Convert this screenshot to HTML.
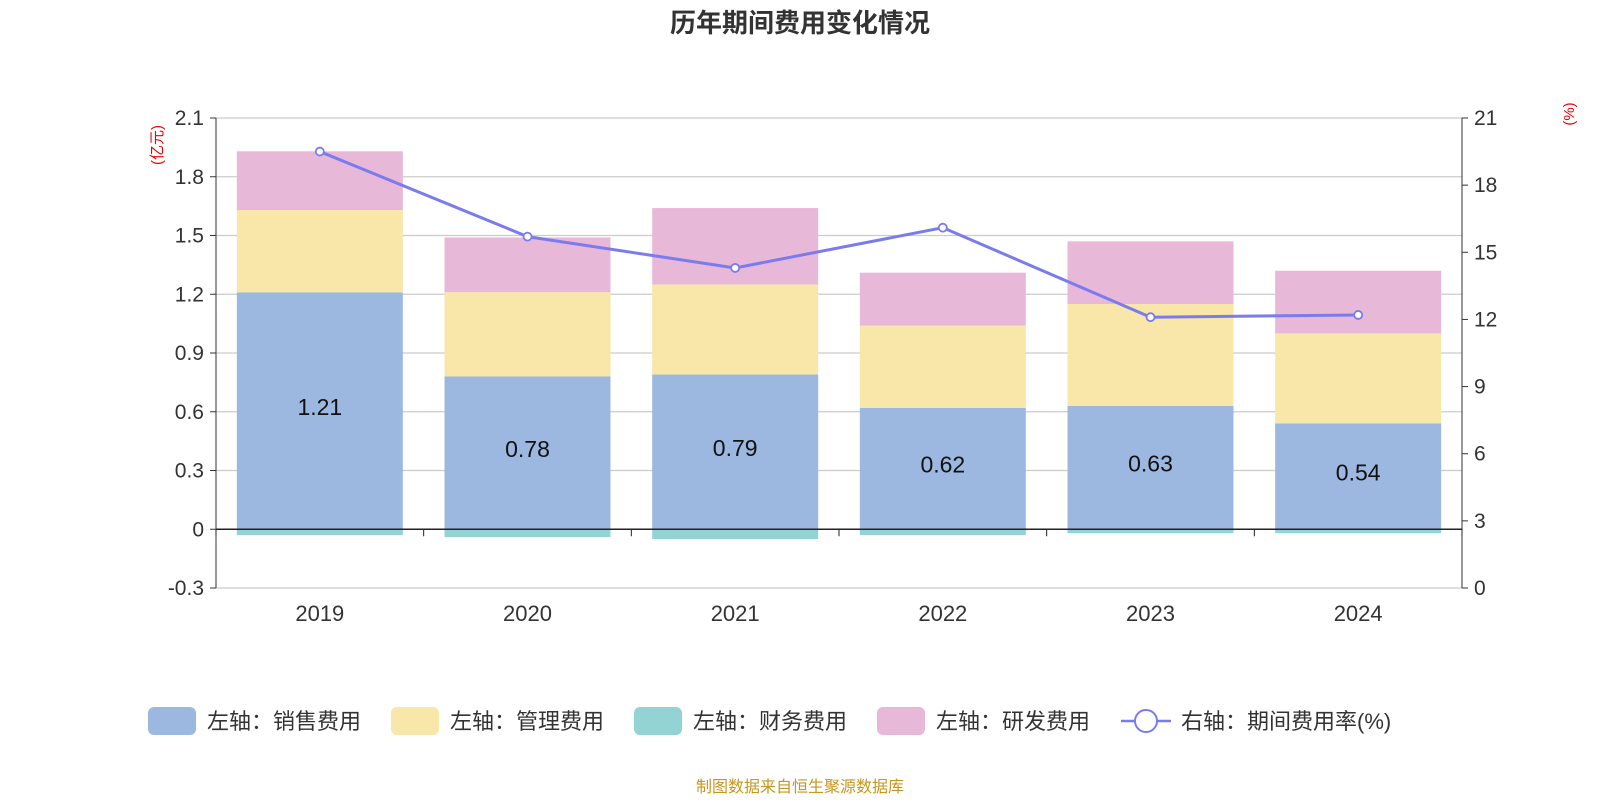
<!DOCTYPE html>
<html><head><meta charset="utf-8">
<style>
body{margin:0;background:#fff;font-family:"Liberation Sans","Noto Sans CJK SC",sans-serif;}
svg text{font-family:"Liberation Sans","Noto Sans CJK SC",sans-serif;}
</style></head>
<body>
<svg id="c" width="1600" height="800" xmlns="http://www.w3.org/2000/svg">
<text x="800" y="32" text-anchor="middle" font-size="26" font-weight="bold" fill="#333">历年期间费用变化情况</text>
<text transform="translate(162,145) rotate(-90)" text-anchor="middle" font-size="15" fill="#e00">(亿元)</text>
<text transform="translate(1574,114) rotate(-90)" text-anchor="middle" font-size="15" fill="#e00">(%)</text>
<g id="grid"></g><g id="bars"></g><g id="axes"></g><g id="line"></g>
<text x="800" y="792" text-anchor="middle" font-size="16" fill="#c8961e">制图数据来自恒生聚源数据库</text>
</svg>
<script>
const years=["2019","2020","2021","2022","2023","2024"];
const sales=[1.21,0.78,0.79,0.62,0.63,0.54];
const mgmt=[0.42,0.43,0.46,0.42,0.52,0.46];
const fin=[-0.03,-0.04,-0.05,-0.03,-0.02,-0.02];
const rd=[0.30,0.28,0.39,0.27,0.32,0.32];
const rate=[19.5,15.7,14.3,16.1,12.1,12.2];
const leftTicks=[-0.3,0,0.3,0.6,0.9,1.2,1.5,1.8,2.1];
const rightTicks=[0,3,6,9,12,15,18,21];
const NS="http://www.w3.org/2000/svg";
const L=216,R=1462,T=118,B=588;
const yL=v=>B-(v+0.3)/2.4*(B-T);
const yR=v=>B-v/21*(B-T);
const bw=(R-L)/years.length;
const xc=i=>L+bw*(i+0.5);
function mk(p,tag,a){const e=document.createElementNS(NS,tag);for(const k in a)e.setAttribute(k,a[k]);document.getElementById(p).appendChild(e);return e;}
leftTicks.forEach((t,i)=>{
 if(t!==0){const g=mk('grid','line',{x1:L,x2:R,y1:yL(t),y2:yL(t),stroke:'#ccc','stroke-width':1.2});
 
 }
 const tx=mk('axes','text',{x:L-12,y:yL(t)+7,'text-anchor':'end','font-size':21,fill:'#333'});tx.textContent=String(t);
 
 
 mk('axes','line',{x1:L-6,x2:L,y1:yL(t),y2:yL(t),stroke:'#333'});
});
rightTicks.forEach(t=>{
 const tx=mk('axes','text',{x:R+12,y:yR(t)+7,'font-size':21,fill:'#333'});tx.textContent=String(t);
 
 
 mk('axes','line',{x1:R,x2:R+6,y1:yR(t),y2:yR(t),stroke:'#333'});
});
mk('axes','line',{x1:L,x2:L,y1:T,y2:B,stroke:'#333'});
mk('axes','line',{x1:R,x2:R,y1:T,y2:B,stroke:'#333'});
mk('axes','line',{x1:L,x2:R,y1:yL(0),y2:yL(0),stroke:'#222','stroke-width':1.5});
for(let i=0;i<=years.length;i++)mk('axes','line',{x1:L+bw*i,x2:L+bw*i,y1:yL(0),y2:yL(0)+7,stroke:'#222'});
const w=166;
years.forEach((y,i)=>{
 const x=xc(i)-w/2;
 let base=0;
 [[sales,'#9cb8e1','bar-sales'],[mgmt,'#f8e7a8','bar-management'],[rd,'#e7b8d8','bar-rnd']].forEach(([arr,c,n])=>{
  const r=mk('bars','rect',{x:x,width:w,y:yL(base+arr[i]),height:yL(base)-yL(base+arr[i]),fill:c});
  
  
  base+=arr[i];
 });
 const f=mk('bars','rect',{x:x,width:w,y:yL(0),height:yL(fin[i])-yL(0),fill:'#93d3d4'});
 
 
 const lb=mk('bars','text',{x:xc(i),y:yL(sales[i]/2)+4,'text-anchor':'middle','font-size':23,fill:'#111'});lb.textContent=sales[i].toFixed(2);
 
 
 const xl=mk('axes','text',{x:xc(i),y:621,'text-anchor':'middle','font-size':22,fill:'#333'});xl.textContent=y;
 
 
});
const pl=mk('line','polyline',{points:rate.map((v,i)=>xc(i)+','+yR(v)).join(' '),fill:'none',stroke:'#7b7bf0','stroke-width':3});


rate.forEach((v,i)=>{const c=mk('line','circle',{cx:xc(i),cy:yR(v),r:4,fill:'#fff',stroke:'#7b7bf0','stroke-width':1.8});
 
 });
const leg=[['#9cb8e1','左轴：销售费用',148],['#f8e7a8','左轴：管理费用',391],['#93d3d4','左轴：财务费用',634],['#e7b8d8','左轴：研发费用',877]];
leg.forEach(([c,t,x])=>{
 const r=mk('axes','rect',{x:x,y:707,width:48,height:28,rx:6,fill:c});
 
 
 const tx=mk('axes','text',{x:x+59,y:729,'font-size':22,fill:'#333'});tx.textContent=t;
 
 
});
mk('axes','line',{x1:1121,x2:1171,y1:721,y2:721,stroke:'#7b7bf0','stroke-width':2.5});
mk('axes','circle',{cx:1146,cy:721,r:11,fill:'#fff',stroke:'#7b7bf0','stroke-width':2});
const lt=mk('axes','text',{x:1181,y:729,'font-size':22,fill:'#333'});lt.textContent='右轴：期间费用率(%)';


</script>
</body></html>
